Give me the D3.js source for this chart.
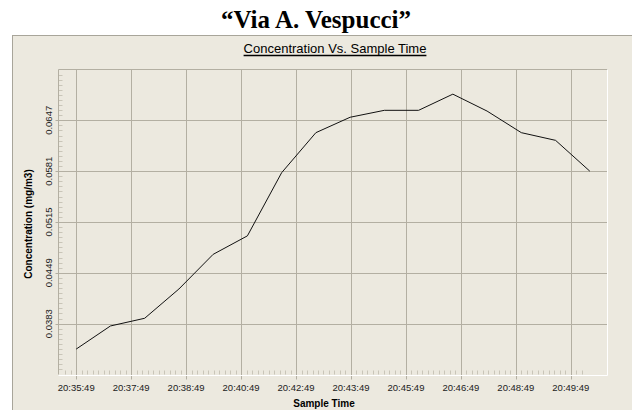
<!DOCTYPE html>
<html>
<head>
<meta charset="utf-8">
<script src="https://cdn.jsdelivr.net/npm/d3@7"></script>
<style>
  html, body { margin: 0; padding: 0; background: #fff; }
  svg { display: block; }
</style>
</head>
<body>
<svg id="chart" width="632" height="410"></svg>
<script>
// sample times: one reading a minute, seconds after 20:35:49
const sampleSeconds = [0, 60, 120, 180, 240, 300, 360, 420, 480, 540, 600, 660, 720, 780, 840, 900];
const concentration = [0.0350, 0.0380, 0.0390, 0.0428, 0.0473, 0.0497, 0.0579, 0.0631,
                       0.0651, 0.0660, 0.0660, 0.0681, 0.0659, 0.0631, 0.0621, 0.0581];

// x axis labels as printed by the logger
const xTickLabels = ["20:35:49", "20:37:49", "20:38:49", "20:40:49", "20:42:49",
                     "20:43:49", "20:45:49", "20:46:49", "20:48:49", "20:49:49"];
const xTickStep = 96.3;   // seconds between labelled gridlines
const xDomain = [-31, 931];

const yTicks = [0.0383, 0.0449, 0.0515, 0.0581, 0.0647];
const yDomain = [0.0317, 0.0713];

const svg = d3.select("#chart");
const bg = "#ece9df", grid = "#b3afa2", minor = "#c9c5b8";
const font = "'Liberation Sans', Arial, sans-serif";

// page title
svg.append("text")
  .attr("x", 316).attr("y", 28)
  .attr("text-anchor", "middle")
  .style("font-family", "'Liberation Serif', 'Times New Roman', serif")
  .style("font-weight", "bold")
  .style("font-size", "25px")
  .text("\u201CVia A. Vespucci\u201D");

// outer panel
svg.append("rect")
  .attr("x", 12.5).attr("y", 35.5)
  .attr("width", 630).attr("height", 380)
  .attr("fill", bg)
  .attr("stroke", "#a8a59a");

const plot = {left: 58.5, top: 69.5, right: 607.5, bottom: 374.5};

const x = d3.scaleLinear().domain(xDomain).range([plot.left, plot.right]);
const y = d3.scaleLinear().domain(yDomain).range([plot.bottom, plot.top]);

// chart title
const title = svg.append("text")
  .attr("x", 335).attr("y", 53)
  .attr("text-anchor", "middle")
  .style("font-family", font)
  .style("font-size", "13px")
  .text("Concentration Vs. Sample Time");
const tb = title.node().getBBox();
svg.append("line")
  .attr("x1", tb.x).attr("x2", tb.x + tb.width)
  .attr("y1", 55.5).attr("y2", 55.5)
  .attr("stroke", "#000")
  .attr("stroke-width", 1.3);

const g = svg.append("g");

// minor ticks
const xMinor = d3.range(-2, 93).filter(i => i % 10 !== 0).map(i => i * xTickStep / 10);
g.selectAll("line.xminor")
  .data(xMinor)
  .enter().append("line")
    .attr("x1", d => Math.round(x(d)) + 0.5)
    .attr("x2", d => Math.round(x(d)) + 0.5)
    .attr("y1", plot.bottom - 4).attr("y2", plot.bottom)
    .attr("stroke", minor);

const yStep = (yTicks[1] - yTicks[0]) / 10;
const yMinor = d3.range(1, 60).filter(i => i % 10 !== 0).map(i => yDomain[0] + i * yStep);
g.selectAll("line.yminor")
  .data(yMinor)
  .enter().append("line")
    .attr("x1", plot.left).attr("x2", plot.left + 4)
    .attr("y1", d => Math.round(y(d)) + 0.5)
    .attr("y2", d => Math.round(y(d)) + 0.5)
    .attr("stroke", minor);

// major gridlines
const xMajor = xTickLabels.map((l, i) => i * xTickStep);
g.selectAll("line.xgrid")
  .data(xMajor)
  .enter().append("line")
    .attr("x1", d => Math.round(x(d)) + 0.5)
    .attr("x2", d => Math.round(x(d)) + 0.5)
    .attr("y1", plot.top).attr("y2", plot.bottom + 5)
    .attr("stroke", grid);

g.selectAll("line.ygrid")
  .data(yTicks)
  .enter().append("line")
    .attr("x1", plot.left - 3).attr("x2", plot.right)
    .attr("y1", d => Math.round(y(d)) + 0.5)
    .attr("y2", d => Math.round(y(d)) + 0.5)
    .attr("stroke", grid);

// inset frame
g.append("path")
  .attr("d", `M${plot.left},${plot.bottom}V${plot.top}H${plot.right}`)
  .attr("fill", "none").attr("stroke", grid);
g.append("path")
  .attr("d", `M${plot.left},${plot.bottom + 1}H${plot.right}V${plot.top}`)
  .attr("fill", "none").attr("stroke", "#fff");

// tick labels
g.selectAll("text.xlab")
  .data(xMajor)
  .enter().append("text")
    .attr("x", d => x(d))
    .attr("y", 390.5)
    .attr("text-anchor", "middle")
    .style("font-family", font)
    .style("font-size", "9.5px")
    .style("fill", "#222")
    .text((d, i) => xTickLabels[i]);

g.selectAll("text.ylab")
  .data(yTicks)
  .enter().append("text")
    .attr("transform", d => `translate(52,${y(d)}) rotate(-90)`)
    .attr("text-anchor", "middle")
    .style("font-family", font)
    .style("font-size", "9.5px")
    .style("fill", "#222")
    .text(d => d.toFixed(4));

// axis titles
svg.append("text")
  .attr("x", 324).attr("y", 407)
  .attr("text-anchor", "middle")
  .style("font-family", font)
  .style("font-weight", "bold")
  .style("font-size", "10px")
  .text("Sample Time");

svg.append("text")
  .attr("transform", "translate(31.5,224) rotate(-90)")
  .attr("text-anchor", "middle")
  .style("font-family", font)
  .style("font-weight", "bold")
  .style("font-size", "10px")
  .text("Concentration (mg/m3)");

// data line
const line = d3.line()
  .x((d, i) => x(sampleSeconds[i]))
  .y(d => y(d));

g.append("path")
  .datum(concentration)
  .attr("d", line)
  .attr("fill", "none")
  .attr("stroke", "#111")
  .attr("stroke-width", 1);
</script>
</body>
</html>
